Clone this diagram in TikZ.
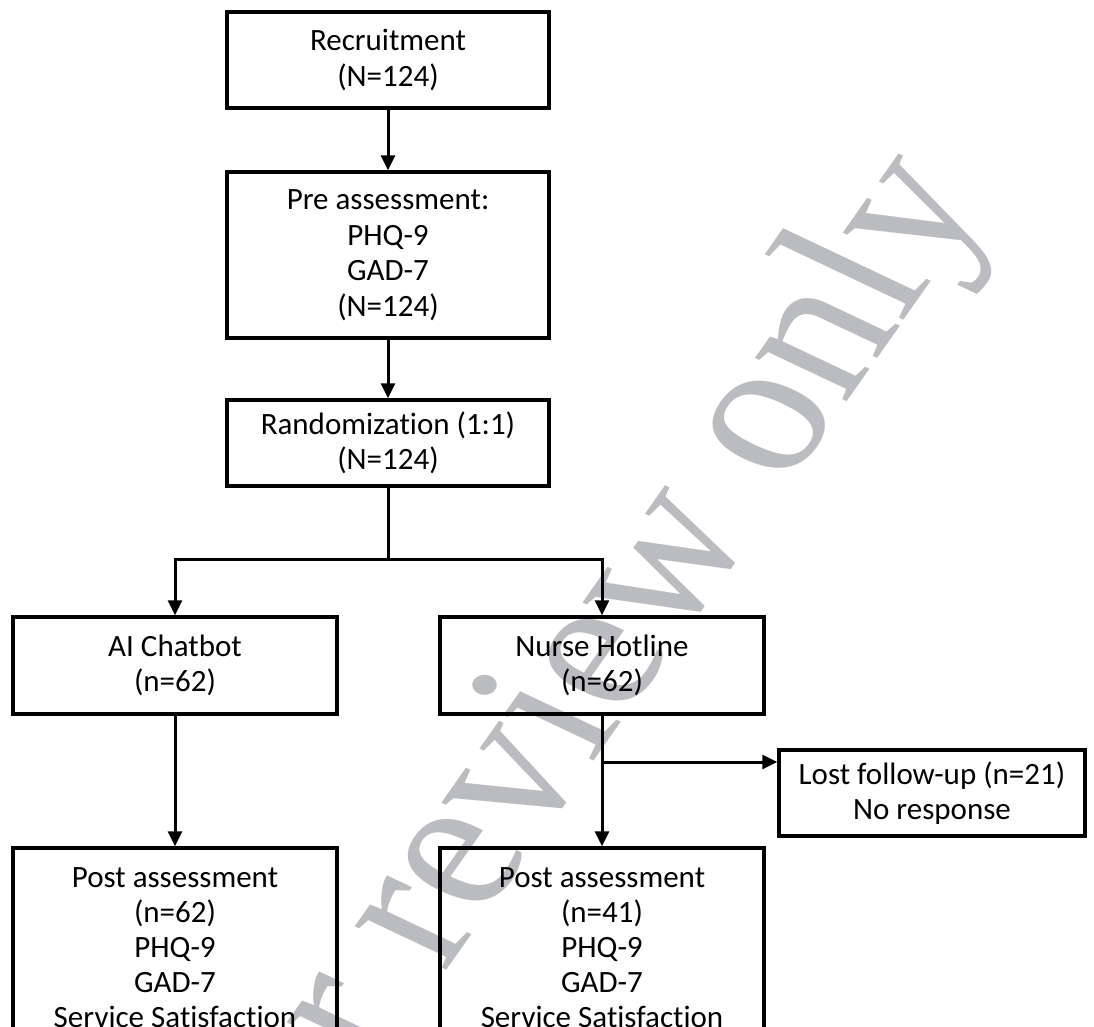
\documentclass[tikz,border=0pt]{standalone}
\usepackage{fontspec}
\setmainfont{Carlito}[Ligatures=NoCommon]
\newfontfamily\wmfont{Liberation Serif}
\usetikzlibrary{arrows.meta}
\definecolor{wmgray}{RGB}{187,188,192}
\begin{document}
\begin{tikzpicture}[x=0.5pt,y=-0.5pt,
  box/.style={draw, line width=1.7pt, align=center, inner sep=0pt,
    font=\fontsize{15.5}{17.75}\selectfont},
  postbox/.style={box, font=\fontsize{15.5}{17.5}\selectfont},
  conn/.style={line width=1.5pt, -{Triangle[width=7pt,length=7.5pt]}},
  plain/.style={line width=1.5pt},
  wmark/.style={transform shape, text=wmgray, inner sep=0pt,
    font=\wmfont\fontsize{94.5}{94.5}\selectfont}]
\useasboundingbox (0,0) rectangle (1094,1027);
\begin{scope}
\clip (0,0) rectangle (1094,1027);
\begin{scope}[shift={(462,858)}, cm={0.61,0.866,-1.057,0.5,(0,0)}]
\node[wmark] (wm) at (0,0) {For peer review only};
\end{scope}

\node[box, minimum width=161pt, minimum height=48pt] (rec) at (388,60)
  {Recruitment\\(N=124)};
\node[box, minimum width=161pt, minimum height=83pt] (pre) at (388,255)
  {Pre assessment:\\PHQ-9\\GAD-7\\(N=124)};
\node[box, minimum width=161pt, minimum height=43pt] (rand) at (388,443)
  {Randomization (1:1)\\(N=124)};
\node[box, minimum width=162pt, minimum height=48.5pt] (ai) at (175,665.5)
  {AI Chatbot\\(n=62)};
\node[box, minimum width=162pt, minimum height=48.5pt] (nurse) at (602,665.5)
  {Nurse Hotline\\(n=62)};
\node[box, minimum width=153pt, minimum height=43pt] (lost) at (932,793)
  {Lost follow-up (n=21)\\No response};
\node[postbox, minimum width=162pt, minimum height=100pt] (post1) at (175,948)
  {Post assessment\\(n=62)\\PHQ-9\\GAD-7\\Service Satisfaction};
\node[postbox, minimum width=162pt, minimum height=100pt] (post2) at (602,948)
  {Post assessment\\(n=41)\\PHQ-9\\GAD-7\\Service Satisfaction};

\coordinate (split) at (388,560);
\coordinate (branch) at (602,762);

\draw[conn] (rec) -- (pre);
\draw[conn] (pre) -- (rand);
\draw[plain] (rand.south) -- (split);
\draw[conn] (split) -| (ai.north);
\draw[conn] (split) -| (nurse.north);
\draw[conn] (ai) -- (post1);
\draw[conn] (nurse) -- (post2);
\draw[conn] (branch) -- (branch -| lost.west);
\end{scope}
\end{tikzpicture}
\end{document}
